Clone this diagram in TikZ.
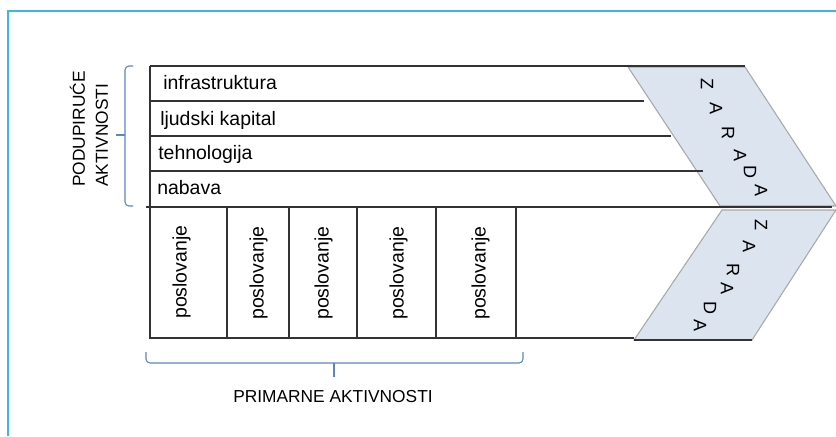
\documentclass[tikz,border=0pt]{standalone}
\usepackage{fontspec}
\setmainfont{Liberation Sans}
\definecolor{frameblue}{HTML}{3DB5E6}
\definecolor{braceblue}{HTML}{5A86C5}
\definecolor{chevfill}{HTML}{DCE4F0}
\definecolor{chevedge}{HTML}{A8A8A8}
\definecolor{linegray}{HTML}{333333}
\begin{document}
\begin{tikzpicture}[x=.75pt,y=-.75pt,
  box/.style={draw=linegray,line width=.9pt},
  chev/.style={fill=chevfill,draw=chevedge,line width=.8pt},
  brace/.style={draw=braceblue,line width=.8pt,rounded corners=3pt},
  lbl/.style={inner sep=0pt,font=\fontsize{14.6}{16}\selectfont},
  caps/.style={inner sep=0pt,font=\fontsize{13}{17.25}\selectfont},
  ltr/.style={inner sep=0pt,rotate=-90,font=\fontsize{13.5}{16}\selectfont}]
\useasboundingbox (0,0) rectangle (836,436);
\draw[frameblue,line width=1.2pt] (8,436) -- (8,11) -- (836,11);
\draw[chev] (628,67) -- (745,67) -- (836,206) -- (720,206) -- cycle;
\draw[chev] (722,210) -- (836,210) -- (752,340) -- (634,340) -- cycle;
\draw[box] (150,66) -- (745,66);
\draw[box] (150,66) -- (150,338) -- (634,338);
\draw[box] (634,340) -- (752,340);
\draw[box] (150,101) -- (644,101);
\draw[box] (150,136) -- (671,136);
\draw[box] (150,171) -- (703,171);
\draw[box] (146,207) -- (832,207);
\draw[box] (227,207) -- (227,338);
\draw[box] (289,207) -- (289,338);
\draw[box] (357,207) -- (357,338);
\draw[box] (436,207) -- (436,338);
\draw[box] (516,207) -- (516,338);
\node[lbl,anchor=base west] (infra) at (163,89) {infrastruktura};
\node[lbl,anchor=base west] (ljudi) at (160,125) {ljudski kapital};
\node[lbl,anchor=base west] (tehno) at (158,159) {tehnologija};
\node[lbl,anchor=base west] (nabava) at (157,194) {nabava};
\node[lbl,rotate=90,anchor=mid west] (pos1) at (183,319) {poslovanje};
\node[lbl,rotate=90,anchor=mid west] (pos2) at (260,320) {poslovanje};
\node[lbl,rotate=90,anchor=mid west] (pos3) at (325,320) {poslovanje};
\node[lbl,rotate=90,anchor=mid west] (pos4) at (400,320) {poslovanje};
\node[lbl,rotate=90,anchor=mid west] (pos5) at (482,320) {poslovanje};
\draw[brace] (133,66) -- (125,66) -- (125,135);
\draw[brace] (125,135) -- (125,206) -- (133,206);
\draw[braceblue,line width=.8pt] (125,135) -- (116,135);
\draw[brace] (146,352) -- (146,363) -- (523,363) -- (523,352);
\draw[braceblue,line width=.8pt] (334,363) -- (334,377);
\node[caps,rotate=90,anchor=west,align=left] (podr) at (89,187) {PODUPIRUĆE\\AKTIVNOSTI};
\node[caps] (prim) at (333,397) {PRIMARNE AKTIVNOSTI};
\node[ltr] (z1) at (707,84) {Z};
\node[ltr] (a1) at (716,108) {A};
\node[ltr] (r1) at (728,133) {R};
\node[ltr] (b1) at (740,155) {A};
\node[ltr] (d1) at (750,172) {D};
\node[ltr] (c1) at (761,190) {A};
\node[ltr] (z2) at (761,225) {Z};
\node[ltr] (a2) at (749,246) {A};
\node[ltr] (r2) at (733,270) {R};
\node[ltr] (b2) at (727,288) {A};
\node[ltr] (d2) at (710,308) {D};
\node[ltr] (c2) at (700,325) {A};
\end{tikzpicture}
\end{document}
